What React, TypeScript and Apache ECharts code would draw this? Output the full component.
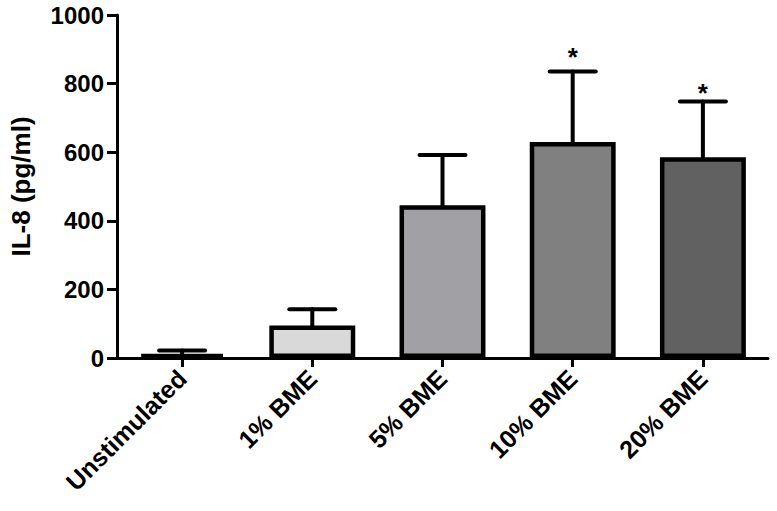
import React, { useEffect, useRef } from "react";
import * as echarts from "echarts";

const categories = ["Unstimulated", "1% BME", "5% BME", "10% BME", "20% BME"];
const means = [12, 95, 445, 630, 585];
const upperErr = [22, 142, 592, 835, 748];
const barColors = ["#ffffff", "#d9d9d9", "#a1a1a5", "#808080", "#616161"];
const starAt = [null, null, null, 878, 774];
const yTicks = [0, 200, 400, 600, 800, 1000];

export default function App() {
  const ref = useRef<HTMLDivElement>(null);
  useEffect(() => {
    const chart = echarts.init(ref.current!, null, { renderer: "svg" });
    const font = "Liberation Sans, Arial, sans-serif";
    chart.setOption({
      animation: false,
      grid: { left: 113, right: 9, top: 15, bottom: 153, containLabel: false },
      xAxis: {
        type: "category",
        data: categories,
        axisLine: { show: true, lineStyle: { color: "#000", width: 3 } },
        axisTick: { show: true, alignWithLabel: true, length: 9, lineStyle: { color: "#000", width: 3 } },
        axisLabel: {
          rotate: 45,
          interval: 0,
          margin: 16,
          color: "#000",
          fontFamily: font,
          fontWeight: "bold",
          fontSize: 25,
        },
      },
      yAxis: {
        type: "value",
        min: 0,
        max: 1000,
        interval: 200,
        name: "IL-8 (pg/ml)",
        nameLocation: "middle",
        nameGap: 83,
        nameTextStyle: { color: "#000", fontFamily: font, fontWeight: "bold", fontSize: 26 },
        axisLine: { show: true, lineStyle: { color: "#000", width: 3 } },
        axisTick: { show: true, length: 10, lineStyle: { color: "#000", width: 3 } },
        axisLabel: {
          color: "#000",
          fontFamily: font,
          fontWeight: "bold",
          fontSize: 24,
          margin: 13,
          formatter: (v: number) => String(v),
          customValues: yTicks,
        },
        splitLine: { show: false },
      },
      series: [
        {
          type: "bar",
          barWidth: "66%",
          data: means.map((v, i) => ({
            value: v,
            itemStyle: { color: barColors[i], borderColor: "#000", borderWidth: 4.5 },
          })),
        },
        {
          type: "custom",
          z: 3,
          data: means.map((m, i) => [i, m, upperErr[i], starAt[i]]),
          renderItem: (params: any, api: any) => {
            const i = api.value(0);
            const lo = api.coord([i, api.value(1)]);
            const hi = api.coord([i, api.value(2)]);
            const half = 23;
            const style = { stroke: "#000", lineWidth: 4, lineCap: "round" };
            const children: any[] = [
              { type: "line", shape: { x1: lo[0], y1: lo[1], x2: hi[0], y2: hi[1] }, style },
              { type: "line", shape: { x1: hi[0] - half, y1: hi[1], x2: hi[0] + half, y2: hi[1] }, style },
            ];
            const s = starAt[params.dataIndex];
            if (s != null) {
              const p = api.coord([i, s]);
              children.push({
                type: "text",
                x: p[0],
                y: p[1],
                style: {
                  text: "*",
                  fill: "#000",
                  font: `bold 26px ${font}`,
                  align: "center",
                  verticalAlign: "middle",
                },
              });
            }
            return { type: "group", children };
          },
        },
      ],
    });
    return () => chart.dispose();
  }, []);
  return (
    <div
      ref={ref}
      style={{ position: "absolute", left: 0, top: 0, width: 777, height: 511 }}
    />
  );
}
